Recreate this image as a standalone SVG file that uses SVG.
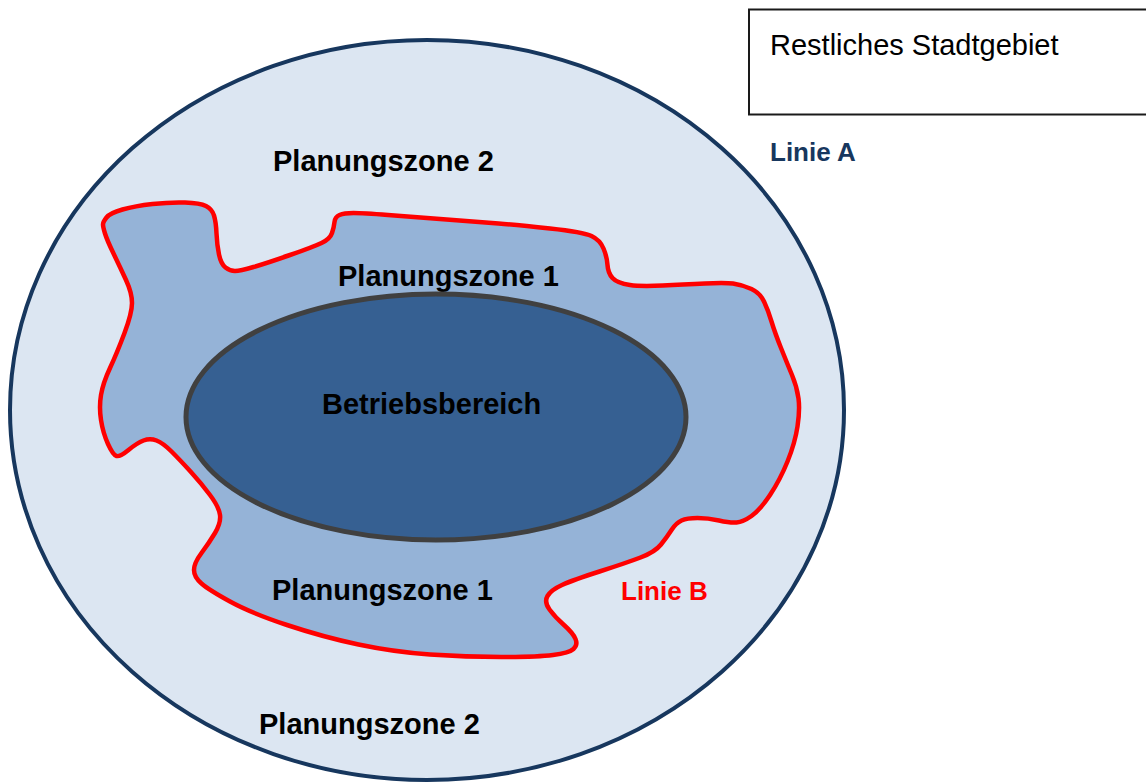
<svg xmlns="http://www.w3.org/2000/svg" width="1146" height="783" viewBox="0 0 1146 783">
  <style>
    .lbl { font-family: "Liberation Sans", Arial, sans-serif; font-weight: bold; font-size: 29px; fill: #000000; }
    .line-lbl { font-family: "Liberation Sans", Arial, sans-serif; font-weight: bold; font-size: 26px; }
    .legend { font-family: "Liberation Sans", Arial, sans-serif; font-size: 29px; fill: #000000; }
  </style>
  <rect width="1146" height="783" fill="#ffffff"/>

  <!-- Legend box, open to the right edge -->
  <g id="legend">
    <rect x="749" y="9.5" width="420" height="105" fill="#ffffff" stroke="#1a1a1a" stroke-width="2"/>
    <text class="legend" x="770" y="55">Restliches Stadtgebiet</text>
  </g>

  <!-- Line A: outer boundary, planning zone 2 -->
  <g id="zone2">
    <ellipse cx="427" cy="410" rx="417" ry="370" fill="#DCE6F2" stroke="#17375E" stroke-width="4"/>
    <text class="lbl" x="273" y="171">Planungszone 2</text>
    <text class="lbl" x="259" y="734">Planungszone 2</text>
  </g>
  <text class="line-lbl" x="770" y="161" fill="#17375E">Linie A</text>

  <!-- Line B: irregular boundary, planning zone 1 -->
  <g id="zone1">
    <path fill="#95B3D7" stroke="#FF0000" stroke-width="4.5" stroke-linejoin="round"
      d="M103,224.5
         Q103,222 106.5,217.5 Q110,213 122.5,209.5 Q135,206 152.5,204 Q170,202 185,202.5
         Q200,203 206,206 Q212,209 214,215.5 Q216,222 216.5,233.5 Q217,245 219,254.5
         Q221,264 225.5,267.5 Q230,271 235,271 Q240,271 253.5,267 Q267,263 290,255
         Q313,247 321.5,243 Q330,239 332,233 Q334,227 334.5,222 Q335,217 339.5,215
         Q344,213 353.5,213 Q363,213 388,215 Q413,217 446.5,219.5 Q480,222 498.5,223.5
         Q517,225 550,228.5 Q583,232 591.5,236 Q600,240 603.5,248.5 Q607,257 607.5,265
         Q608,273 612.5,278 Q617,283 630,285 Q643,287 683,284.5 Q723,282 733,283.5
         Q743,285 751.5,289 Q760,293 764,301.5 Q768,310 771.5,321.5 Q775,333 781,348
         Q787,363 792,375 Q797,387 798.5,398.5 Q800,410 797.5,426.5 Q795,443 787.5,461.5
         Q780,480 770,495 Q760,510 751.5,516 Q743,522 736.5,522.5 Q730,523 719,520.5
         Q708,518 697.5,518 Q687,518 681.5,520.5 Q676,523 671.5,530 Q667,537 661,544.5
         Q655,552 640.5,557.5 Q626,563 599.5,571.5 Q573,580 562,585 Q551,590 547.5,596
         Q544,602 549.5,609.5 Q555,617 564,625 Q573,633 575.5,639 Q578,645 573.5,649
         Q569,653 553,655 Q537,657 501.5,657 Q466,657 430,654.5 Q394,652 358.5,644.5
         Q323,637 287,625 Q251,613 230,601.5 Q209,590 201.5,583.5 Q194,577 194,570
         Q194,563 201.5,553 Q209,543 215,533 Q221,523 220,515 Q219,507 210,495
         Q201,483 190.5,471.5 Q180,460 171.5,451.5 Q163,443 156.5,440.5 Q150,438 143.5,440.5
         Q137,443 128.5,450 Q120,457 116.5,456 Q113,455 108,444 Q103,433 101,420
         Q99,407 101,395 Q103,383 110,368 Q117,353 124.5,333 Q132,313 132,303
         Q132,293 126,280 Q120,267 113.5,253.5 Q107,240 105,233.5 Q103,227 103,224.5 Z"/>
    <text class="lbl" x="338" y="286">Planungszone 1</text>
    <text class="lbl" x="272" y="600">Planungszone 1</text>
  </g>
  <text class="line-lbl" x="621" y="600" fill="#FF0000">Linie B</text>

  <!-- Operating area -->
  <g id="betriebsbereich">
    <ellipse cx="436" cy="417" rx="250" ry="123" fill="#366092" stroke="#404040" stroke-width="5"/>
    <text class="lbl" x="322" y="414">Betriebsbereich</text>
  </g>
</svg>
